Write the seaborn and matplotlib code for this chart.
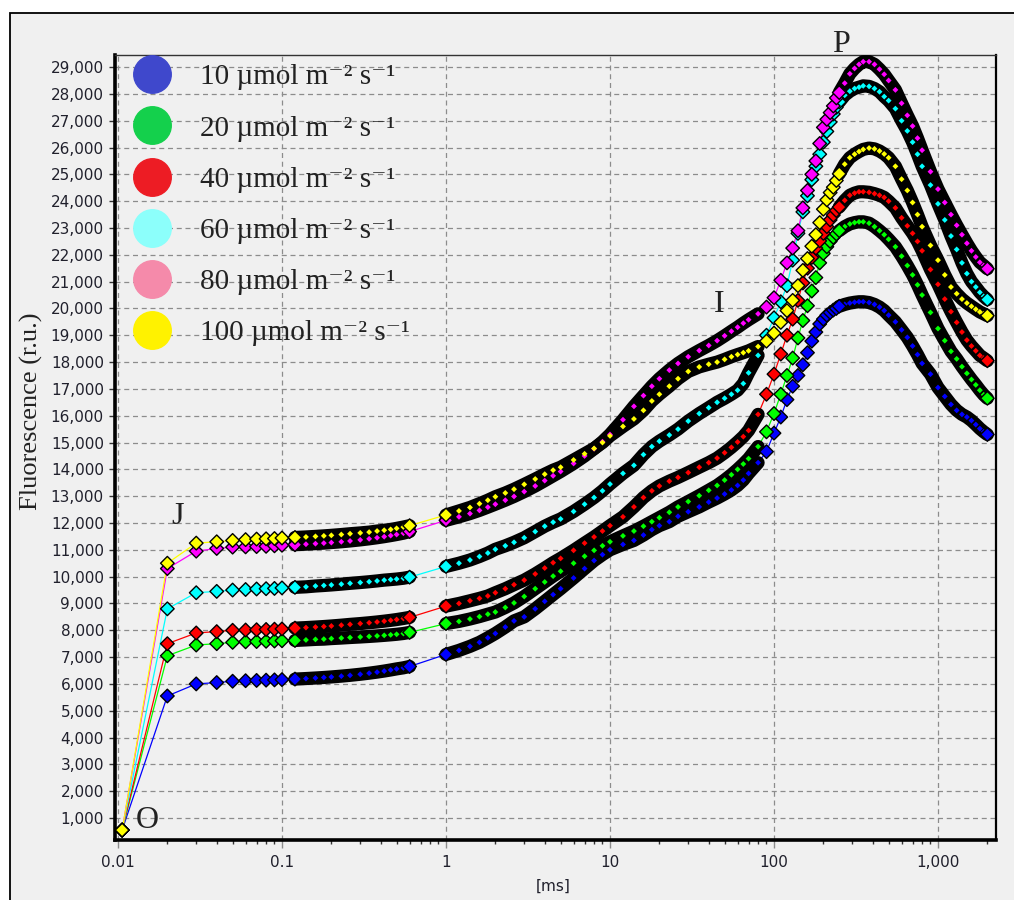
import numpy as np
import pandas as pd
import matplotlib
matplotlib.use("Agg")
import matplotlib.pyplot as plt
import seaborn as sns
from matplotlib.lines import Line2D
from matplotlib.patches import Rectangle
from matplotlib.ticker import FixedLocator, LogLocator, NullFormatter, FuncFormatter
from matplotlib.font_manager import FontProperties

# ---------------- data ----------------
t_early = [0.0106, 0.02, 0.03, 0.04, 0.05, 0.06, 0.07, 0.08, 0.09, 0.10, 0.12, 0.14, 0.16,
           0.18, 0.20, 0.23, 0.26, 0.30, 0.34, 0.38, 0.42, 0.46, 0.50, 0.55, 0.60]
t_late = [1.0, 1.2, 1.4, 1.6, 1.8, 2.0, 2.3, 2.6, 3.0, 3.5, 4.0, 4.5, 5.0, 6.0, 7.0, 8.0, 9.0,
          10, 12, 14, 16, 18, 20, 23, 26, 30, 35, 40, 45, 50, 55, 60, 65, 70,
          80, 90, 100, 110, 120, 130, 140, 150, 160, 170, 180, 190, 200, 210, 220, 230, 240, 250,
          270, 290, 310, 330, 350, 380, 410, 440, 470, 500,
          550, 600, 650, 700, 750, 800, 900,
          1000, 1100, 1200, 1300, 1400, 1500, 1600, 1700, 1800, 1900, 2000]

f_10 = [550, 5550, 6000, 6050, 6100, 6120, 6130, 6140, 6150, 6160, 6180, 6200, 6220, 6240, 6260,
        6290, 6320, 6360, 6400, 6440, 6480, 6520, 6560, 6600, 6650,
        7100, 7250, 7400, 7550, 7720, 7880, 8120, 8350, 8500, 8800, 9080, 9330, 9550, 9950, 10300, 10600, 10820,
        11000, 11200, 11350, 11550, 11750, 11900, 12050, 12250, 12420, 12600, 12780, 12930, 13080, 13230, 13400, 13600, 13850,
        14250, 14660, 15350, 15950, 16600, 17100, 17500, 17900, 18350, 18780, 19120, 19420, 19600, 19750, 19850, 19940, 20000, 20080,
        20150, 20200, 20230, 20250, 20250, 20220, 20150, 20050, 19920, 19750,
        19500, 19200, 18920, 18600, 18280, 17950, 17550,
        17050, 16720, 16420, 16200, 16050, 15950, 15820, 15670, 15520, 15400, 15300]

f_20 = [550, 7050, 7450, 7500, 7550, 7570, 7580, 7590, 7600, 7610, 7620, 7640, 7660, 7670, 7690,
        7710, 7730, 7750, 7770, 7790, 7810, 7830, 7850, 7880, 7920,
        8250, 8330, 8420, 8510, 8600, 8680, 8850, 9020, 9260, 9550, 9800, 10020, 10200, 10500, 10760, 10980, 11150,
        11300, 11520, 11700, 11880, 12050, 12200, 12400, 12600, 12800, 13020, 13220, 13400, 13600, 13800, 14000, 14200, 14400,
        14850, 15400, 16080, 16800, 17500, 18150, 18900, 19550, 20100, 20650, 21150, 21700, 22050, 22300, 22500, 22650, 22780, 22900,
        23050, 23150, 23200, 23230, 23230, 23180, 23050, 22900, 22750, 22580,
        22300, 21950, 21600, 21250, 20880, 20500, 19850,
        19250, 18800, 18400, 18120, 17830, 17580, 17350, 17150, 16950, 16780, 16650]

f_40 = [550, 7500, 7900, 7950, 8000, 8010, 8020, 8030, 8040, 8050, 8080, 8100, 8120, 8140, 8160,
        8190, 8220, 8250, 8280, 8310, 8340, 8370, 8400, 8440, 8480,
        8900, 9000, 9100, 9190, 9280, 9400, 9550, 9700, 9870, 10100, 10320, 10520, 10680, 10980, 11250, 11480, 11700,
        11900, 12230, 12600, 12950, 13200, 13380, 13560, 13700, 13880, 14080, 14250, 14420, 14620, 14820, 15020, 15220, 15450,
        16050, 16800, 17550, 18300, 19000, 19600, 20300, 20950, 21500, 21900, 22250, 22520, 22800, 23050, 23300, 23480, 23650, 23780,
        24030, 24220, 24300, 24350, 24350, 24330, 24280, 24220, 24140, 24000,
        23750, 23380, 23080, 22800, 22500, 22150, 21450,
        20900, 20350, 19880, 19480, 19120, 18820, 18600, 18420, 18250, 18150, 18050]

f_60 = [550, 8800, 9400, 9450, 9500, 9520, 9540, 9550, 9560, 9580, 9600, 9620, 9650, 9670, 9690,
        9720, 9750, 9780, 9810, 9840, 9870, 9890, 9910, 9940, 9980,
        10380, 10500, 10620, 10750, 10880, 11020, 11150, 11280, 11450, 11680, 11880, 12030, 12150, 12430, 12700, 12950, 13200,
        13450, 13850, 14150, 14550, 14850, 15050, 15280, 15500, 15800, 16080, 16300, 16500, 16650, 16800, 16950, 17200, 17600,
        18250, 19000, 19650, 20250, 20850, 21800, 22800, 23600, 24200, 24800, 25300, 25750, 26200, 26600, 26950, 27250, 27500, 27700,
        27950, 28100, 28200, 28250, 28300, 28280, 28200, 28080, 27900, 27750,
        27450, 27000, 26620, 26200, 25750, 25300, 24600,
        23900, 23300, 22700, 22200, 21700, 21300, 21000, 20800, 20600, 20450, 20330]

f_80 = [550, 10300, 10950, 11050, 11100, 11110, 11120, 11130, 11150, 11170, 11190, 11210, 11230, 11250, 11270,
        11300, 11330, 11370, 11410, 11450, 11490, 11530, 11570, 11620, 11680,
        12100, 12230, 12350, 12470, 12590, 12700, 12850, 12990, 13170, 13380, 13580, 13760, 13920, 14220, 14500, 14770, 15030,
        15300, 15850, 16350, 16750, 17100, 17380, 17700, 17950, 18200, 18430, 18620, 18800, 18980, 19150, 19300, 19450, 19580,
        19800, 20050, 20400, 21050, 21700, 22250, 22900, 23750, 24400, 25000, 25500, 26150, 26750, 27050, 27300, 27550, 27850, 28050,
        28400, 28750, 28950, 29100, 29200, 29200, 29100, 28920, 28730, 28500,
        28150, 27650, 27200, 26800, 26350, 25900, 25100,
        24450, 23950, 23500, 23100, 22750, 22430, 22150, 21920, 21720, 21600, 21480]

f_100 = [550, 10500, 11250, 11300, 11350, 11380, 11400, 11410, 11420, 11440, 11460, 11480, 11500, 11520, 11540,
         11570, 11600, 11630, 11660, 11700, 11730, 11760, 11800, 11850, 11900,
         12300, 12450, 12580, 12720, 12850, 12980, 13120, 13260, 13440, 13640, 13820, 13970, 14080, 14350, 14580, 14780, 15000,
         15250, 15600, 15880, 16200, 16550, 16800, 17100, 17380, 17650, 17820, 17920, 18000, 18100, 18200, 18280, 18350, 18420,
         18580, 18780, 19080, 19480, 19920, 20300, 20850, 21420, 21860, 22320, 22750, 23200, 23700, 24050, 24320, 24520, 24770, 25020,
         25380, 25620, 25750, 25850, 25930, 25980, 25950, 25870, 25760, 25620,
         25300, 24820, 24400, 23950, 23500, 23050, 22350,
         21800, 21250, 20800, 20550, 20350, 20200, 20080, 19970, 19870, 19800, 19730]

series_names = ["10", "20", "40", "60", "80", "100"]
legend_labels = ["10 µmol m⁻² s⁻¹", "20 µmol m⁻² s⁻¹", "40 µmol m⁻² s⁻¹",
                 "60 µmol m⁻² s⁻¹", "80 µmol m⁻² s⁻¹", "100 µmol m⁻² s⁻¹"]
line_colors = ["#0000ff", "#00ff00", "#ff0000", "#00ffff", "#ff00ff", "#ffff00"]
legend_colors = ["#3f48cc", "#14d04c", "#ed1c24", "#8cfffb", "#f58aaa", "#fff200"]
y_ticks = [1000, 2000, 3000, 4000, 5000, 6000, 7000, 8000, 9000, 10000, 11000, 12000, 13000, 14000,
           15000, 16000, 17000, 18000, 19000, 20000, 21000, 22000, 23000, 24000, 25000, 26000,
           27000, 28000, 29000]
x_ticks = [0.01, 0.1, 1, 10, 100, 1000]
x_tick_labels = ["0.01", "0.1", "1", "10", "100", "1,000"]
phase_labels = ["O", "J", "I", "P"]
phase_t = [0.0151, 0.0231, 46.2, 256]
phase_f = [925, 12260, 20160, 29860]

# ---------------- build long table ----------------
t_ms = t_early + t_late
values = [f_10, f_20, f_40, f_60, f_80, f_100]
df = pd.DataFrame({
    "t": np.tile(np.array(t_ms, dtype=float), len(series_names)),
    "F": np.concatenate([np.array(v, dtype=float) for v in values]),
    "series": np.repeat(series_names, len(t_ms)),
})
seg = np.full(len(df), "", dtype=object)
seg[(df.t >= 0.12) & (df.t <= 0.6)] = "a"
seg[(df.t >= 1.0) & (df.t <= 80)] = "b"
seg[(df.t >= 250) & (df.t <= 2000)] = "c"
df["seg"] = seg
dense = ((df.t > 0.12) & (df.t < 0.6)) | ((df.t > 1.0) & (df.t <= 80)) | ((df.t >= 260) & (df.t < 2000))
band_df = df[df.seg != ""]
dense_df = df[dense]
sparse_df = df[~dense]

pal = dict(zip(series_names, line_colors))
black_pal = {n: "black" for n in series_names}

# ---------------- figure ----------------
sns.set_theme(style="white")
plt.rcParams['font.family'] = ['DejaVu Sans']
BG = "#f0f0f0"
fig = plt.figure(figsize=(10.14, 9.0), dpi=100, facecolor="white")
fig.patches.append(Rectangle((10 / 1014, -0.05), 1.2, (900 - 13) / 900 + 0.05,
                             transform=fig.transFigure, facecolor=BG, edgecolor="black",
                             linewidth=1.3, zorder=-10))
ax = fig.add_axes([115 / 1014, 1 - 840 / 900, (996 - 115) / 1014, (840 - 55) / 900])
ax.set_zorder(1)
ax.set_facecolor(BG)
ax.set_xscale("log")

sns.lineplot(data=df, x="t", y="F", hue="series", hue_order=series_names, palette=pal,
             estimator=None, sort=False, linewidth=0.9, legend=False, ax=ax, zorder=2)
sns.lineplot(data=band_df, x="t", y="F", hue="series", hue_order=series_names, units="seg",
             palette=black_pal, estimator=None, sort=False, linewidth=9.5, legend=False,
             ax=ax, zorder=3, solid_capstyle="round")
sns.scatterplot(data=dense_df, x="t", y="F", hue="series", hue_order=series_names, palette=pal,
                marker="D", s=9, linewidth=0, legend=False, ax=ax, zorder=4)
sns.scatterplot(data=sparse_df, x="t", y="F", hue="series", hue_order=series_names, palette=pal,
                marker="D", s=48, edgecolor="black", linewidth=1.0, legend=False, ax=ax, zorder=5)

ax.set_xlim(0.00959, 2258)
ax.set_ylim(180, 29450)

# axes styling
ax.set_axisbelow(True)
ax.xaxis.set_major_locator(FixedLocator(x_ticks))
ax.set_xticklabels(x_tick_labels)
ax.xaxis.set_minor_locator(LogLocator(base=10, subs=np.arange(2, 10)))
ax.xaxis.set_minor_formatter(NullFormatter())
ax.yaxis.set_major_locator(FixedLocator(y_ticks))
ax.yaxis.set_major_formatter(FuncFormatter(lambda v, p: f"{int(v):,}"))
ax.grid(True, which="major", axis="both", color="#8c8c8c", linestyle=(0, (4, 3)), linewidth=0.9)
ax.tick_params(axis="y", which="major", direction="out", length=4, width=1, color="#333333",
               labelsize=11, labelcolor="#20202c", pad=4, left=True)
ax.tick_params(axis="x", which="major", direction="out", length=6, width=1, color="#8c8c8c",
               labelsize=11, labelcolor="#20202c", pad=5, bottom=True)
ax.tick_params(axis="x", which="minor", direction="out", length=3, width=1, color="#333333", bottom=True)
for side, lw, col in [("left", 2.6, "black"), ("bottom", 2.6, "black"), ("top", 1.0, "#333333"), ("right", 1.6, "black")]:
    ax.spines[side].set_visible(True)
    ax.spines[side].set_linewidth(lw)
    ax.spines[side].set_color(col)

ax.set_xlabel("[ms]", fontsize=11, color="#20202c")
ax.xaxis.set_label_coords((553 - 115) / 881, -(879 - 840) / 785)
ax.set_ylabel("Fluorescence (r.u.)", fontsize=19, family=["Liberation Serif", "DejaVu Serif"], color="#222222")
ax.yaxis.set_label_coords((43 - 115) / 881, 1 - (411 - 55) / 785)

# phase labels
for lab, tx, fy in zip(phase_labels, phase_t, phase_f):
    ax.text(tx, fy, lab, fontsize=23, family=["Liberation Serif", "DejaVu Serif"], color="#222222",
            ha="center", va="center", clip_on=False, zorder=6)

# legend
handles = [Line2D([], [], linestyle="", marker="o", markersize=27, markerfacecolor=c, markeredgecolor=c)
           for c in legend_colors]
leg_font = FontProperties(family=["Liberation Serif", "DejaVu Serif"], size=21)
leg = ax.legend(handles, legend_labels, loc="upper left", bbox_to_anchor=(133 / 1014, 1 - 64 / 900),
                bbox_transform=fig.transFigure, frameon=False, prop=leg_font, handlelength=1.3,
                handletextpad=0.99, labelspacing=0.85, borderpad=0, borderaxespad=0)
for txt in leg.get_texts():
    txt.set_color("#222222")

fig.savefig("out.png", dpi=100, facecolor=fig.get_facecolor())
